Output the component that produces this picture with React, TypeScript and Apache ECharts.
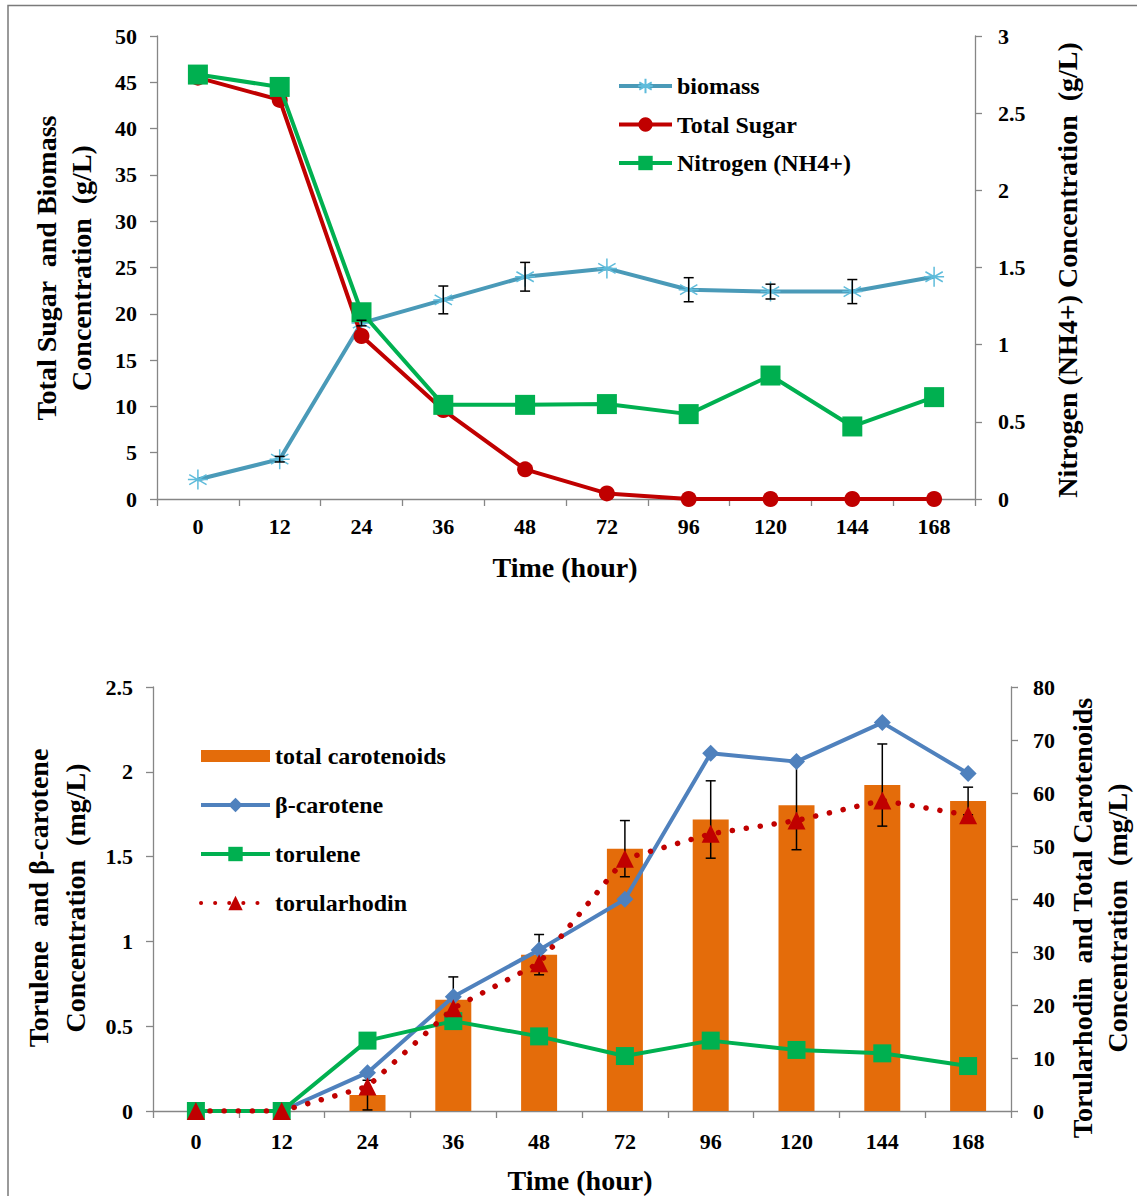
import React, { useEffect, useRef } from "react";
import * as echarts from "echarts";

const categories = ["0", "12", "24", "36", "48", "72", "96", "120", "144", "168"];

// Top chart
const biomass = [2.1, 4.3, 19.0, 21.5, 24.0, 24.9, 22.6, 22.4, 22.4, 24.0];
const biomassErr = [0, 0.3, 0.3, 1.5, 1.55, 0, 1.3, 0.8, 1.3, 0];
const totalSugar = [45.5, 43.1, 17.6, 9.6, 3.2, 0.6, 0, 0, 0, 0];
const nitrogen = [2.75, 2.67, 1.21, 0.61, 0.61, 0.615, 0.55, 0.8, 0.47, 0.66];

// Bottom chart
const totalCarotenoids = [0, 0, 3.0, 21.0, 29.5, 49.5, 55.0, 57.7, 61.5, 58.5];
const carotenoidErr = [0, 0, 2.8, 4.3, 3.8, 5.3, 7.3, 8.4, 7.75, 2.6];
const betaCarotene = [0, 0, 0.226, 0.674, 0.95, 1.248, 2.109, 2.06, 2.29, 1.99];
const torulene = [0, 0, 0.415, 0.53, 0.44, 0.324, 0.415, 0.36, 0.34, 0.265];
const torularhodin = [0, 0, 4.6, 19.4, 27.9, 47.6, 52.3, 54.8, 58.6, 55.8];

const FONT = "'Liberation Serif', 'Times New Roman', serif";
const AXIS = "#868686";

function errData(vals: number[], errs: number[]) {
  const out: number[][] = [];
  vals.forEach((v, i) => {
    if (errs[i] > 0) out.push([i, v, errs[i]]);
  });
  return out;
}

function errRender(params: any, api: any) {
  const i = api.value(0);
  const v = api.value(1);
  const e = api.value(2);
  const top = api.coord([i, v + e]);
  const bot = api.coord([i, v - e]);
  const hw = 5;
  const style = { stroke: "#000", lineWidth: 1.5 };
  return {
    type: "group",
    children: [
      { type: "line", shape: { x1: top[0], y1: top[1], x2: bot[0], y2: bot[1] }, style },
      { type: "line", shape: { x1: top[0] - hw, y1: top[1], x2: top[0] + hw, y2: top[1] }, style },
      { type: "line", shape: { x1: bot[0] - hw, y1: bot[1], x2: bot[0] + hw, y2: bot[1] }, style },
    ],
  };
}

const tickLabel = { color: "#000", fontFamily: FONT, fontWeight: "bold" as const, fontSize: 22 };

function xAxis(gridIndex: number, margin: number) {
  return {
    type: "category",
    gridIndex,
    data: categories,
    boundaryGap: true,
    axisLine: { lineStyle: { color: AXIS, width: 1.3 } },
    axisTick: { show: true, length: 7, lineStyle: { color: AXIS, width: 1.3 } },
    axisLabel: { ...tickLabel, margin },
    splitLine: { show: false },
  };
}

function yAxis(gridIndex: number, position: string, min: number, max: number, interval: number, margin: number) {
  return {
    type: "value",
    gridIndex,
    position,
    min,
    max,
    interval,
    axisLine: { show: true, lineStyle: { color: AXIS, width: 1.3 } },
    axisTick: { show: true, length: 7, lineStyle: { color: AXIS, width: 1.3 } },
    axisLabel: { ...tickLabel, margin },
    splitLine: { show: false },
  };
}

const asterisk = "path://M10,0L10,20M1.34,5L18.66,15M1.34,15L18.66,5M0,10L20,10";
const barIcon = "path://M0,0h0.01v0.01h-0.01zM0,3h69v12h-69zM68.99,17.99h0.01v0.01h-0.01z";

const legendText = { color: "#000", fontFamily: FONT, fontWeight: "bold", fontSize: 24, lineHeight: 24 };

export default function App() {
  const ref = useRef<HTMLDivElement>(null);
  useEffect(() => {
    if (!ref.current) return;
    const chart = echarts.init(ref.current, null, { renderer: "svg" });
    const titleFont = (size: number) => `bold ${size}px ${FONT}`;
    const option: any = {
      animation: false,
      backgroundColor: "#fff",
      grid: [
        { left: 157, top: 36, width: 818, height: 463 },
        { left: 153, top: 687, width: 858, height: 424 },
      ],
      xAxis: [xAxis(0, 16), xAxis(1, 19)],
      yAxis: [
        yAxis(0, "left", 0, 50, 5, 20),
        yAxis(0, "right", 0, 3, 0.5, 23),
        yAxis(1, "left", 0, 2.5, 0.5, 20),
        yAxis(1, "right", 0, 80, 10, 22),
      ],
      legend: [
        {
          orient: "vertical",
          left: 617,
          top: 74,
          padding: 0,
          itemWidth: 53,
          itemHeight: 18,
          itemGap: 14.5,
          data: ["biomass", "Total Sugar", "Nitrogen (NH4+)"],
          lineStyle: { width: 4 },
          textStyle: legendText,
        },
        {
          orient: "vertical",
          left: 199,
          top: 744,
          padding: 0,
          itemWidth: 69,
          itemHeight: 18,
          itemGap: 25,
          data: [
            { name: "total carotenoids", icon: barIcon },
            "β-carotene",
            "torulene",
            "torularhodin",
          ],
          lineStyle: { width: 4 },
          textStyle: legendText,
        },
      ],
      series: [
        {
          name: "biomass",
          type: "line",
          xAxisIndex: 0,
          yAxisIndex: 0,
          data: biomass,
          z: 3,
          symbol: asterisk,
          symbolSize: 20,
          lineStyle: { color: "#4A9AB8", width: 4 },
          itemStyle: { color: "#5FBCDB", borderColor: "#5FBCDB", borderWidth: 1.5 },
        },
        {
          name: "Total Sugar",
          type: "line",
          xAxisIndex: 0,
          yAxisIndex: 0,
          data: totalSugar,
          z: 4,
          symbol: "circle",
          symbolSize: 16,
          lineStyle: { color: "#C00000", width: 4 },
          itemStyle: { color: "#C00000" },
        },
        {
          name: "Nitrogen (NH4+)",
          type: "line",
          xAxisIndex: 0,
          yAxisIndex: 1,
          data: nitrogen,
          z: 5,
          symbol: "rect",
          symbolSize: 20,
          lineStyle: { color: "#00B050", width: 4 },
          itemStyle: { color: "#00B050" },
        },
        {
          name: "biomassErr",
          type: "custom",
          xAxisIndex: 0,
          yAxisIndex: 0,
          z: 6,
          renderItem: errRender,
          data: errData(biomass, biomassErr),
        },
        {
          name: "total carotenoids",
          type: "bar",
          xAxisIndex: 1,
          yAxisIndex: 3,
          data: totalCarotenoids,
          barWidth: 36,
          z: 2,
          itemStyle: { color: "#E46C0A" },
        },
        {
          name: "carotenoidErr",
          type: "custom",
          xAxisIndex: 1,
          yAxisIndex: 3,
          z: 3,
          renderItem: errRender,
          data: errData(totalCarotenoids, carotenoidErr),
        },
        {
          name: "β-carotene",
          type: "line",
          xAxisIndex: 1,
          yAxisIndex: 2,
          data: betaCarotene,
          z: 5,
          symbol: "diamond",
          symbolSize: 17,
          lineStyle: { color: "#4F81BD", width: 4 },
          itemStyle: { color: "#4F81BD" },
        },
        {
          name: "torulene",
          type: "line",
          xAxisIndex: 1,
          yAxisIndex: 2,
          data: torulene,
          z: 5,
          symbol: "rect",
          symbolSize: 18,
          lineStyle: { color: "#00B050", width: 4 },
          itemStyle: { color: "#00B050" },
        },
        {
          name: "torularhodin",
          type: "line",
          xAxisIndex: 1,
          yAxisIndex: 3,
          data: torularhodin,
          z: 6,
          symbol: "triangle",
          symbolSize: 18,
          lineStyle: { color: "#C00000", width: 5.5, type: [0.1, 14], cap: "round" },
          itemStyle: { color: "#C00000" },
        },
      ],
      graphic: [
        {
          type: "polyline",
          shape: { points: [[8, 1196], [8, 5.5], [1137, 5.5]] },
          style: { stroke: "#7a7a7a", lineWidth: 1.5, fill: "none" },
          silent: true,
        },
        {
          type: "text",
          x: 64,
          y: 268,
          rotation: Math.PI / 2,
          style: {
            text: "Total Sugar  and Biomass\nConcentration  (g/L)",
            font: titleFont(28),
            lineHeight: 35,
            align: "center",
            verticalAlign: "middle",
            fill: "#000",
          },
        },
        {
          type: "text",
          x: 1067,
          y: 270,
          rotation: Math.PI / 2,
          style: {
            text: "Nitrogen (NH4+) Concentration  (g/L)",
            font: titleFont(28),
            align: "center",
            verticalAlign: "middle",
            fill: "#000",
          },
        },
        {
          type: "text",
          x: 565,
          y: 567,
          style: {
            text: "Time (hour)",
            font: titleFont(28),
            align: "center",
            verticalAlign: "middle",
            fill: "#000",
          },
        },
        {
          type: "text",
          x: 57,
          y: 898,
          rotation: Math.PI / 2,
          style: {
            text: "Torulene  and β-carotene\nConcentration  (mg/L)",
            font: titleFont(28),
            lineHeight: 37,
            align: "center",
            verticalAlign: "middle",
            fill: "#000",
          },
        },
        {
          type: "text",
          x: 1100,
          y: 918,
          rotation: Math.PI / 2,
          style: {
            text: "Torularhodin  and Total Carotenoids\nConcentration  (mg/L)",
            font: titleFont(28),
            lineHeight: 35,
            align: "center",
            verticalAlign: "middle",
            fill: "#000",
          },
        },
        {
          type: "text",
          x: 580,
          y: 1180,
          style: {
            text: "Time (hour)",
            font: titleFont(28),
            align: "center",
            verticalAlign: "middle",
            fill: "#000",
          },
        },
      ],
    };
    chart.setOption(option);
    return () => chart.dispose();
  }, []);
  return (
    <div
      ref={ref}
      style={{ position: "absolute", left: 0, top: 0, width: 1137, height: 1196, background: "#fff" }}
    />
  );
}
